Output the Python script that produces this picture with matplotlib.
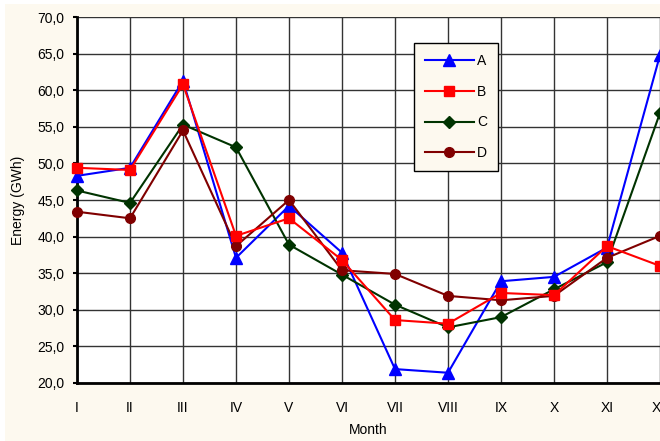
import numpy as np
import matplotlib.pyplot as plt
from matplotlib.patches import Rectangle

months = ['I', 'II', 'III', 'IV', 'V', 'VI', 'VII', 'VIII', 'IX', 'X', 'XI', 'XII']
a = [48.3, 49.4, 61.3, 37.1, 44.2, 37.8, 21.9, 21.4, 33.9, 34.5, 38.5, 64.8]
b = [49.4, 49.1, 60.8, 40.1, 42.5, 36.8, 28.6, 28.1, 32.3, 32.0, 38.7, 36.0]
c = [46.3, 44.6, 55.3, 52.2, 38.9, 34.8, 30.7, 27.6, 29.0, 32.8, 36.5, 56.9]
d = [43.4, 42.5, 54.5, 38.7, 45.0, 35.4, 34.9, 31.9, 31.3, 31.9, 37.1, 40.1]

plt.rcParams['font.family'] = ['Liberation Sans', 'DejaVu Sans']
cream = '#fdf9ef'

fig = plt.figure(figsize=(6.6, 4.41), dpi=100, facecolor='white')
fig.patches.append(Rectangle((5 / 660, 0), 1, 1 - 4 / 441, transform=fig.transFigure,
                             facecolor=cream, edgecolor='none', zorder=-10))
ax = fig.add_axes([77 / 660, 1 - 383 / 441, 1 - 77 / 660, 366 / 441])
ax.set_facecolor('white')

x = np.arange(len(months))
ax.plot(x, a, color='#0000ff', marker='^', markersize=8, lw=1.5, label='A', clip_on=False, zorder=3)
ax.plot(x, b, color='#ff0000', marker='s', markersize=7, lw=1.5, label='B', clip_on=False, zorder=4)
ax.plot(x, c, color='#003300', marker='D', markersize=6, lw=1.5, label='C', clip_on=False, zorder=3)
ax.plot(x, d, color='#800000', marker='o', markersize=7, lw=1.5, label='D', clip_on=False, zorder=3)

ax.set_xlim(0, 11)
ax.set_ylim(20, 70)
ax.set_xticks(x)
ax.set_xticklabels(months)
yt = np.arange(20, 71, 5)
ax.set_yticks(yt)
ax.set_yticklabels([f'{v:.1f}'.replace('.', ',') for v in yt])
ax.tick_params(axis='both', labelsize=10, colors='black')
ax.tick_params(axis='x', length=0, pad=13)
ax.tick_params(axis='y', length=3, width=1.5, pad=6)
ax.grid(True, color='#333333', lw=1.0)
ax.set_axisbelow(True)
for s in ['top', 'right']:
    ax.spines[s].set_visible(False)
ax.spines['left'].set_linewidth(2)
ax.spines['bottom'].set_linewidth(2)

ax.set_xlabel('Month', fontsize=10, labelpad=6)
ax.set_ylabel('Energy (GWh)', fontsize=10, labelpad=9)

leg = ax.legend(loc='upper left', bbox_to_anchor=((414 - 77) / 583, 1 - (43 - 17) / 366),
                borderaxespad=0, frameon=True, fancybox=False, facecolor=cream,
                edgecolor='black', framealpha=1, fontsize=10, handlelength=3.5,
                labelspacing=1.2, borderpad=0.8, handletextpad=0.25)
leg.get_frame().set_linewidth(1)

fig.savefig('out.png', dpi=100, facecolor=fig.get_facecolor())
